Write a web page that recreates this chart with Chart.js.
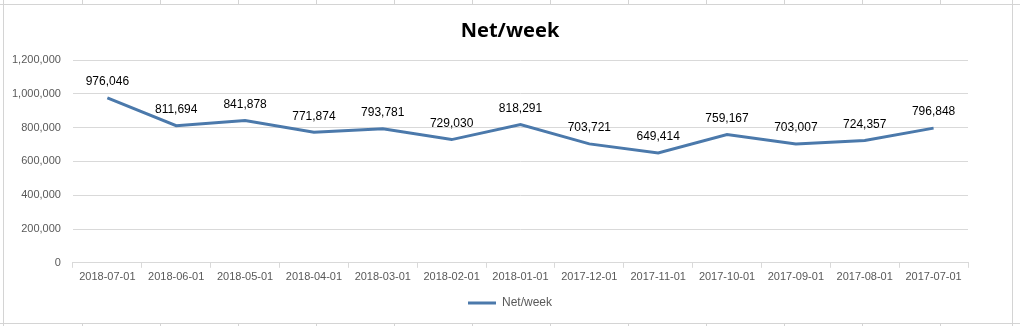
<!DOCTYPE html>
<html>
<head>
<meta charset="utf-8">
<script src="https://cdn.jsdelivr.net/npm/chart.js@4/dist/chart.umd.min.js"></script>
<style>
  html, body { margin: 0; padding: 0; background: #fff; }
  #wrap { width: 1020px; height: 326px; position: relative; }
</style>
</head>
<body>
<div id="wrap"><canvas id="netChart" width="1020" height="326"></canvas></div>
<script>
const months = ['2018-07-01', '2018-06-01', '2018-05-01', '2018-04-01', '2018-03-01', '2018-02-01', '2018-01-01',
  '2017-12-01', '2017-11-01', '2017-10-01', '2017-09-01', '2017-08-01', '2017-07-01'];
const netPerWeek = [976046, 811694, 841878, 771874, 793781, 729030, 818291,
  703721, 649414, 759167, 703007, 724357, 796848];
const yTicks = [0, 200000, 400000, 600000, 800000, 1000000, 1200000];

const fmt = v => Number(v).toLocaleString('en-US');

// value labels above each point
const pointLabels = {
  id: 'pointLabels',
  afterDatasetsDraw(chart) {
    const c = chart.ctx;
    const meta = chart.getDatasetMeta(0);
    c.save();
    c.font = '12px "Liberation Sans", sans-serif';
    c.fillStyle = '#000';
    c.textAlign = 'center';
    c.textBaseline = 'middle';
    meta.data.forEach((pt, i) => {
      c.fillText(fmt(netPerWeek[i]), pt.x, pt.y - 16);
    });
    c.restore();
  }
};

// faint spreadsheet cells behind the chart object
const sheetBg = {
  id: 'sheetBg',
  beforeDraw(chart) {
    const c = chart.ctx;
    c.save();
    c.fillStyle = '#fff';
    c.fillRect(0, 0, chart.width, chart.height);
    c.strokeStyle = '#d4d4d4';
    c.lineWidth = 1;
    c.beginPath();
    c.moveTo(0, 4.5); c.lineTo(chart.width, 4.5);
    c.moveTo(0, 323.5); c.lineTo(chart.width, 323.5);
    c.moveTo(3.5, 0); c.lineTo(3.5, chart.height);
    c.moveTo(1012.5, 0); c.lineTo(1012.5, chart.height);
    for (let x = 82; x < 1012; x += 78) {
      c.moveTo(x + 0.5, 0); c.lineTo(x + 0.5, 4);
      c.moveTo(x + 0.5, 323); c.lineTo(x + 0.5, 326);
    }
    c.stroke();
    c.restore();
  }
};

new Chart(document.getElementById('netChart').getContext('2d'), {
  type: 'line',
  data: {
    labels: months,
    datasets: [{
      label: 'Net/week',
      data: netPerWeek,
      borderColor: '#4b79ab',
      backgroundColor: '#4b79ab',
      borderWidth: 3,
      pointRadius: 0,
      tension: 0,
      fill: false
    }]
  },
  options: {
    responsive: false,
    animation: false,
    layout: { padding: { left: 0, right: 0, top: 8, bottom: 7 } },
    plugins: {
      title: {
        display: true,
        text: 'Net/week',
        color: '#000',
        font: { family: '"Noto Sans", sans-serif', size: 20, weight: 'bold' },
        padding: { top: 11, bottom: 17 }
      },
      legend: {
        position: 'bottom',
        labels: {
          usePointStyle: true,
          pointStyle: 'line',
          pointStyleWidth: 28,
          color: '#595959',
          font: { family: '"Liberation Sans", sans-serif', size: 12 },
          padding: 10
        }
      },
      tooltip: { enabled: false }
    },
    scales: {
      x: {
        offset: true,
        grid: {
          offset: true,
          drawOnChartArea: false,
          drawTicks: true,
          tickLength: 5,
          color: '#d9d9d9'
        },
        border: { color: '#d9d9d9' },
        ticks: {
          color: '#595959',
          font: { family: '"Liberation Sans", sans-serif', size: 11 },
          maxRotation: 0,
          autoSkip: false,
          padding: 3
        }
      },
      y: {
        min: 0,
        max: 1200000,
        afterBuildTicks(axis) {
          axis.ticks = yTicks.map(v => ({ value: v }));
        },
        grid: { color: '#d9d9d9', drawTicks: false },
        border: { display: false },
        ticks: {
          color: '#595959',
          font: { family: '"Liberation Sans", sans-serif', size: 11 },
          padding: 12,
          callback: v => fmt(v)
        }
      },
      // empty right-hand axis, only there to keep the right margin
      yRight: {
        position: 'right',
        min: 0,
        max: 1,
        grid: { drawOnChartArea: false, drawTicks: false },
        border: { display: false },
        ticks: { display: false },
        afterFit(axis) { axis.width = 52; }
      }
    }
  },
  plugins: [sheetBg, pointLabels]
});
</script>
</body>
</html>
